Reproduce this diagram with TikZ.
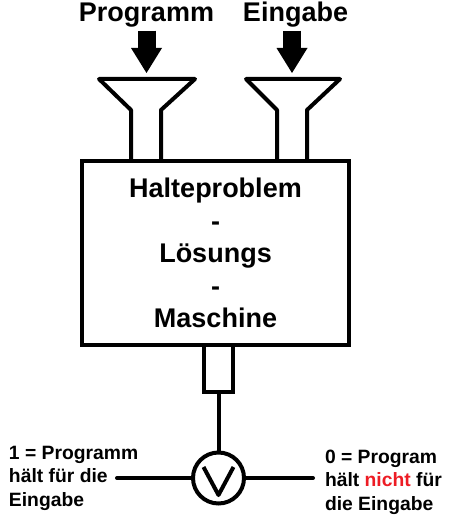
\documentclass[tikz,border=0pt]{standalone}
\usepackage{fontspec}
\setmainfont{Liberation Sans}
\usetikzlibrary{arrows.meta}
\definecolor{paintred}{RGB}{237,28,36}

\begin{document}
\begin{tikzpicture}[
    x=1pt, y=-1pt,
    line width=4pt,
    toplabel/.style={font=\bfseries\fontsize{27}{30}\selectfont, inner sep=0pt, anchor=base},
    machinebox/.style={draw, align=center, minimum width=267pt, minimum height=184pt, inner sep=0pt, font=\bfseries\fontsize{27}{32.5}\selectfont},
    outlet/.style={draw, minimum width=29pt, minimum height=47pt, inner sep=0pt},
    lamp/.style={draw, circle, minimum size=51pt, inner sep=0pt},
    result/.style={align=left, inner sep=0pt, anchor=west, font=\bfseries\fontsize{19.3}{23.5}\selectfont},
    feed/.style={line width=18pt, -{Triangle[length=25pt, width=31pt, line width=0pt]}, shorten >=6pt, shorten <=1pt},
    wire/.style={line cap=round}
  ]
  \useasboundingbox (0,0) rectangle (452,524);

  % inputs
  \node[toplabel] (prog) at (146.5,22) {Programm};
  \node[toplabel] (ein) at (295.5,22) {Eingabe};
  \coordinate (ftopL) at (146.5,79);
  \coordinate (ftopR) at (292,79);

  % funnels
  \draw[line join=round] (131,161) -- (131,110) -- (99,79) -- (195,79) -- (161,110) -- (161,161);
  \draw[line join=round] (277,161) -- (277,110) -- (246,79) -- (340,79) -- (307,110) -- (307,161);

  \draw[feed] (prog.south) -- (ftopL);
  \draw[feed] (ein.south -| ftopR) -- (ftopR);

  % machine
  \node[machinebox] (machine) at (215.5,253) {Halteproblem\\-\\Lösungs\\-\\Maschine};
  \node[outlet] (out) at (218.5,368.5) {};
  \node[lamp] (lamp) at (218.5,478) {};
  \draw[line join=round] ([shift={(-15,-11)}]lamp.center) -- ([shift={(0,17)}]lamp.center) -- ([shift={(15,-11)}]lamp.center);

  % results
  \node[result] (yes) at (7,478) {1 = Programm\\hält für die\\Eingabe};
  \node[result] (no) at (323,482) {0 = Program\\hält {\color{paintred}nicht} für\\die Eingabe};
  \coordinate (wireL) at (117,478);
  \coordinate (wireR) at (313,478);

  \draw (out.south) -- (lamp.north);
  \draw[wire] (wireL) -- (lamp.west);
  \draw[wire] (lamp.east) -- (wireR);
\end{tikzpicture}
\end{document}
